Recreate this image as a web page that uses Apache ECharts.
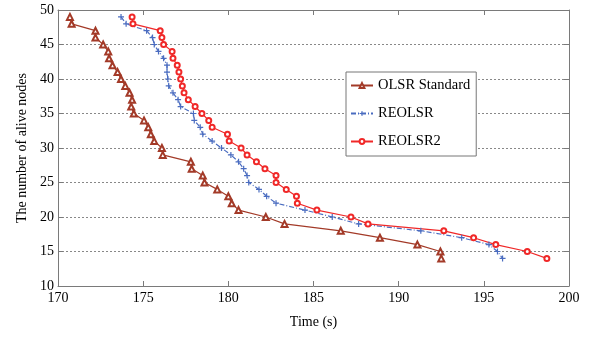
<!DOCTYPE html>
<html>
<head>
<meta charset="utf-8">
<script src="https://cdn.jsdelivr.net/npm/echarts@6/dist/echarts.min.js"></script>
<style>
html,body{margin:0;padding:0;background:#fff;}
#main{width:596px;height:338px;}
</style>
</head>
<body>
<div id="main"></div>
<script>
// alive nodes (y) and the time at which each count was reached, per protocol
var nodes = [49,48,47,46,45,44,43,42,41,40,39,38,37,36,35,34,33,32,31,30,29,28,27,26,25,24,23,22,21,20,19,18,17,16,15,14];
var olsrTime = [170.7,170.8,172.2,172.2,172.65,172.95,173.0,173.2,173.5,173.7,173.95,174.2,174.35,174.3,174.45,175.05,175.3,175.45,175.65,176.1,176.15,177.8,177.85,178.5,178.6,179.35,180.0,180.2,180.6,182.2,183.3,186.6,188.9,191.1,192.45,192.5];
var reolsrTime = [173.7,174.0,175.2,175.55,175.65,175.9,176.2,176.4,176.4,176.45,176.5,176.75,177.05,177.2,177.95,178.0,178.35,178.5,179.05,179.6,180.15,180.6,180.9,181.1,181.2,181.8,182.25,182.8,184.5,186.1,187.65,191.3,193.7,195.3,195.8,196.1];
var reolsr2Time = [174.35,174.4,176.0,176.1,176.2,176.7,176.75,177.0,177.1,177.2,177.3,177.4,177.65,178.05,178.45,178.85,179.05,179.95,180.05,180.75,181.1,181.65,182.15,182.8,182.8,183.4,184.0,184.05,185.2,187.2,188.2,192.65,194.4,195.7,197.55,198.7];
var seriesNames = ['OLSR Standard','REOLSR','REOLSR2'];

function pairs(times){
	var out = [];
	for (var i = 0; i < times.length; i++) out.push([times[i], nodes[i]]);
	return out;
}

var serif = 'Liberation Serif';
var axisGrey = '#7a7a7a';
var plusPath = 'path://M4,0h2v4h4v2h-4v4h-2v-4h-4v-2h4z';

var myChart = echarts.init(document.getElementById('main'));
var option = {
	animation: false,
	backgroundColor: '#fff',
	grid: {left: 58, right: 27, top: 10, bottom: 52},
	legend: {
		orient: 'vertical',
		left: 346, top: 72,
		backgroundColor: '#fff',
		borderColor: '#777', borderWidth: 1,
		padding: [6, 6, 7, 4],
		itemWidth: 22, itemHeight: 6, itemGap: 13,
		textStyle: {fontFamily: serif, fontSize: 14.5, color: '#000'},
		data: seriesNames
	},
	xAxis: [
		{
			type: 'value', min: 170, max: 200, interval: 5,
			name: 'Time (s)', nameLocation: 'middle', nameGap: 29,
			nameTextStyle: {fontFamily: serif, fontSize: 14, color: '#000'},
			axisLine: {lineStyle: {color: axisGrey}},
			axisTick: {inside: true, length: 5, lineStyle: {color: axisGrey}},
			axisLabel: {fontFamily: serif, fontSize: 14, color: '#000', margin: 5},
			splitLine: {show: false}
		},
		{
			type: 'value', min: 170, max: 200, interval: 5, position: 'top',
			axisLine: {lineStyle: {color: axisGrey}},
			axisTick: {inside: true, length: 5, lineStyle: {color: axisGrey}},
			axisLabel: {show: false}, splitLine: {show: false}
		}
	],
	yAxis: [
		{
			type: 'value', min: 10, max: 50, interval: 5,
			name: 'The number of alive nodes', nameLocation: 'middle', nameGap: 27,
			nameTextStyle: {fontFamily: serif, fontSize: 14, color: '#000'},
			axisLine: {show: true, lineStyle: {color: axisGrey}},
			axisTick: {show: true, inside: true, length: 5, lineStyle: {color: axisGrey}},
			axisLabel: {fontFamily: serif, fontSize: 14, color: '#000', margin: 4},
			splitLine: {show: true, lineStyle: {color: '#888', type: [2, 2], width: 1}}
		},
		{
			type: 'value', min: 10, max: 50, interval: 5, position: 'right',
			axisLine: {show: true, lineStyle: {color: axisGrey}},
			axisTick: {show: true, inside: true, length: 5, lineStyle: {color: axisGrey}},
			axisLabel: {show: false}, splitLine: {show: false}
		}
	],
	series: [
		{
			name: seriesNames[0], type: 'line', data: pairs(olsrTime),
			symbol: 'emptyTriangle', symbolSize: 6,
			lineStyle: {color: '#a33a28', width: 1.2},
			itemStyle: {color: '#a33a28', borderWidth: 1}
		},
		{
			name: seriesNames[1], type: 'line', data: pairs(reolsrTime),
			symbol: plusPath, symbolSize: 6,
			lineStyle: {color: '#4a6cc0', width: 1.2, type: [5, 2, 1, 2]},
			itemStyle: {color: '#4a6cc0'}
		},
		{
			name: seriesNames[2], type: 'line', data: pairs(reolsr2Time),
			symbol: 'emptyCircle', symbolSize: 5,
			lineStyle: {color: '#f02828', width: 1.2},
			itemStyle: {color: '#f02828', borderWidth: 1}
		}
	]
};
myChart.setOption(option);
</script>
</body>
</html>
